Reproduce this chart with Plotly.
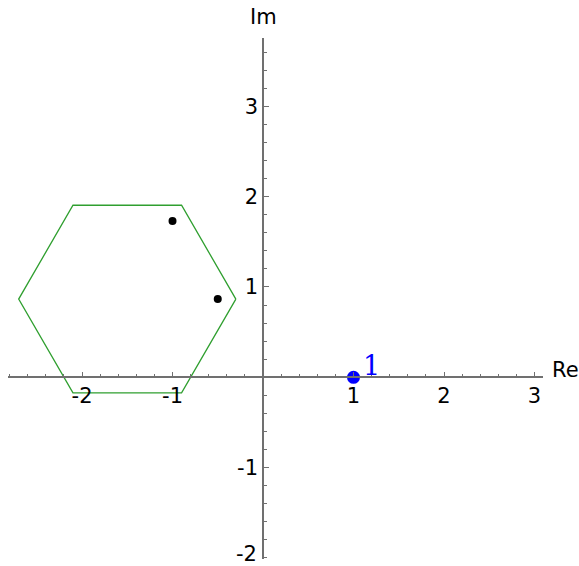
import numpy as np
import plotly.graph_objects as go

# Hexagon outline in the complex plane (closed polygon)
hex_re = [-0.3, -0.9, -2.1, -2.7, -2.1, -0.9, -0.3]
hex_im = [0.866, 1.905, 1.905, 0.866, -0.173, -0.173, 0.866]

# Black points
pts_re = [-1.0, -0.5]
pts_im = [1.732, 0.866]

# Highlighted point with its label
one_re = [1.0]
one_im = [0.0]
one_label = "1"

# Tick values and labels (plain hyphen as the minus sign)
x_major = [-2, -1, 1, 2, 3]
y_major = [-2, -1, 1, 2, 3]
x_major_text = ["-2", "-1", "1", "2", "3"]
y_major_text = ["-2", "-1", "1", "2", "3"]
x_minor = np.round(np.arange(-2.8, 3.01, 0.2), 2)
y_minor = np.round(np.arange(-2.0, 3.71, 0.2), 2)

W, H = 579, 566
x_range = [-2.818, 3.094]
y_range = [-2.012, 3.757]
x_dom = [8 / W, 543 / W]
y_dom = [(H - 559) / H, (H - 38) / H]

# Paper positions where the axes cross the origin
x0_paper = x_dom[0] + (0 - x_range[0]) / (x_range[1] - x_range[0]) * (x_dom[1] - x_dom[0])
y0_paper = y_dom[0] + (0 - y_range[0]) / (y_range[1] - y_range[0]) * (y_dom[1] - y_dom[0])

axis_color = "#707070"
font_main = dict(family="DejaVu Sans", size=21, color="black")

# The lowest y label sits at the page edge; it is drawn as an annotation kept inside
y_low_idx = y_major.index(min(y_major))
y_axis_text = ["" if i == y_low_idx else t for i, t in enumerate(y_major_text)]

fig = go.Figure()

fig.add_trace(go.Scatter(
    x=hex_re, y=hex_im, mode="lines",
    line=dict(color="#2f9f2f", width=1.3),
    cliponaxis=False, hoverinfo="skip",
))
fig.add_trace(go.Scatter(
    x=pts_re, y=pts_im, mode="markers",
    marker=dict(color="black", size=8),
    cliponaxis=False,
))
fig.add_trace(go.Scatter(
    x=one_re, y=one_im, mode="markers",
    marker=dict(color="#0000ff", size=13),
    cliponaxis=False,
))

fig.add_annotation(
    x=one_re[0] + 0.08, y=one_im[0], xref="x", yref="y",
    text=one_label, showarrow=False, xanchor="left", yanchor="bottom",
    yshift=-6,
    font=dict(family="DejaVu Serif", size=27, color="#0000ff"),
)

fig.add_annotation(
    x=x0_paper, y=0, xref="paper", yref="paper",
    text=y_major_text[y_low_idx], showarrow=False,
    xanchor="right", yanchor="bottom", xshift=-4, yshift=-2,
    font=font_main,
)

# Axis names
fig.add_annotation(
    x=x_dom[1] + 7 / W, y=y0_paper, xref="paper", yref="paper",
    text="Re", showarrow=False, xanchor="left", yanchor="bottom",
    yshift=-7, font=font_main,
)
fig.add_annotation(
    x=x0_paper, y=1, xref="paper", yref="paper",
    text="Im", showarrow=False, xanchor="center", yanchor="top",
    yshift=-3, font=font_main,
)

fig.update_layout(
    width=W, height=H,
    margin=dict(l=0, r=0, t=0, b=0),
    paper_bgcolor="white", plot_bgcolor="white",
    showlegend=False,
    xaxis=dict(
        domain=x_dom, range=x_range, anchor="free", position=y0_paper,
        showgrid=False, zeroline=False, showline=True,
        linecolor=axis_color, linewidth=1.5,
        ticks="inside", ticklen=5, tickwidth=1, tickcolor=axis_color,
        tickmode="array", tickvals=x_major, ticktext=x_major_text,
        tickfont=font_main, automargin=False, ticklabeloverflow="allow",
        minor=dict(tickmode="array", tickvals=x_minor, ticks="inside",
                   ticklen=3, tickwidth=1, tickcolor=axis_color, showgrid=False),
    ),
    yaxis=dict(
        domain=y_dom, range=y_range, anchor="free", position=x0_paper,
        showgrid=False, zeroline=False, showline=True,
        linecolor=axis_color, linewidth=1.5,
        ticks="inside", ticklen=5, tickwidth=1, tickcolor=axis_color,
        tickmode="array", tickvals=y_major, ticktext=y_axis_text,
        tickfont=font_main, automargin=False, ticklabeloverflow="allow",
        minor=dict(tickmode="array", tickvals=y_minor, ticks="inside",
                   ticklen=3, tickwidth=1, tickcolor=axis_color, showgrid=False),
    ),
)

fig.write_html("out.html")
